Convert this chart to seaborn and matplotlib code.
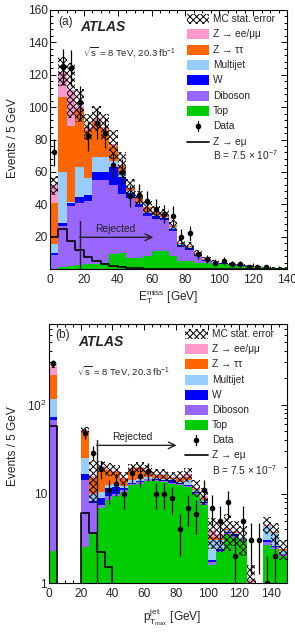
import numpy as np
import pandas as pd
import matplotlib
matplotlib.use('Agg')
import matplotlib.pyplot as plt
import seaborn as sns
from matplotlib.patches import Rectangle
from matplotlib.ticker import MultipleLocator, LogLocator, NullFormatter

sns.set_style('ticks')
plt.rcParams['font.family'] = ['Liberation Sans', 'DejaVu Sans']
plt.rcParams['mathtext.fontset'] = 'custom'
plt.rcParams['mathtext.rm'] = 'Liberation Sans'
plt.rcParams['mathtext.it'] = 'Liberation Sans:italic'
plt.rcParams['mathtext.bf'] = 'Liberation Sans:bold'
plt.rcParams['hatch.linewidth'] = 0.7

# stacking order as in the legend: first entry ends on top
processes = ['Z → ee/μμ', 'Z → ττ', 'Multijet', 'W', 'Diboson', 'Top']
colors = ['#ff99cc', '#ff6600', '#99ccff', '#0000ff', '#9966ff', '#00cc00']

# ---- (a) missing transverse momentum, 5 GeV bins 0-140
met_edges = list(range(0, 145, 5))
met_top = [0.3, 1.0, 1.8, 2.3, 2.8, 3.2, 3.6, 9.0, 10.0, 7.0, 7.0, 8.0, 11.0, 11.0,
           8.0, 5.0, 5.0, 4.0, 3.5, 3.0, 3.0, 2.3, 1.9, 1.5, 1.2, 1.0, 0.8, 0.6]
met_diboson = [8.3, 25.7, 37.0, 38.3, 39.2, 51.8, 51.4, 42.7, 36.6, 37.0, 31.0, 25.0, 20.0, 19.0,
               15.5, 8.7, 7.0, 4.1, 1.3, 0.6, 0.3, 0.2, 0.2, 0.1, 0.1, 0.1, 0.1, 0.1]
met_w = [1.1, 1.7, 2.2, 4.0, 4.0, 5.0, 5.0, 11.3, 10.4, 3.0, 2.0, 1.5, 1.5, 1.5,
         1.5, 1.2, 1.0, 0.8, 0.5, 0.3, 0.2, 0.1, 0.1, 0.1, 0.1, 0.0, 0.0, 0.0]
met_multijet = [6.0, 31.6, 0.5, 18.4, 10.0, 9.0, 9.0, 4.0, 2.0, 1.0, 1.0, 1.0, 1.0, 0.8,
                0.8, 0.5, 0.5, 0.5, 0.3, 0.3, 0.2, 0.1, 0.1, 0.1, 0.0, 0.0, 0.0, 0.0]
met_ztautau = [25.0, 46.5, 47.0, 36.0, 30.0, 22.0, 17.0, 9.0, 5.0, 2.0, 3.0, 2.5, 2.0, 1.5,
               1.0, 0.5, 0.5, 0.5, 0.3, 0.2, 0.1, 0.1, 0.0, 0.0, 0.0, 0.0, 0.0, 0.0]
met_zll = [11.0, 15.5, 22.0, 2.0, 1.5, 2.0, 1.5, 1.0, 0.5, 0.3, 0.3, 0.2, 0.2, 0.2,
           0.2, 0.1, 0.1, 0.1, 0.1, 0.1, 0.0, 0.0, 0.0, 0.0, 0.0, 0.0, 0.0, 0.0]
met_mc_err = [6, 9, 17, 10, 8, 8, 8, 9, 8, 5, 4, 4, 3, 3,
              3, 2.5, 2.5, 2, 1.2, 1, 0.8, 0.6, 0.5, 0.4, 0.4, 0.3, 0.3, 0.3]
met_data = [72, 125, 124, 103, 82, 90, 84, 64, 60, 45, 46, 42, 37, 34,
            33, 20, 22, 9, 6, 4, 5, 3, 3, 1, 1, 1, 0, 0]
met_signal = [20, 24.7, 17.5, 11.7, 7.5, 5.0, 3.2, 2.0, 1.2, 0.7, 0.4, 0.2, 0.1, 0.05,
              0, 0, 0, 0, 0, 0, 0, 0, 0, 0, 0, 0, 0, 0]

# ---- (b) leading jet pT, 5 GeV bins 0-150
jet_edges = list(range(0, 155, 5))
jet_top = [2.3, 0, 0, 0, 2.5, 3.5, 7.0, 8.5, 9.5, 10.5, 12.5, 13.0, 14.0, 14.0, 13.5,
           13.0, 12.5, 12.0, 10.0, 7.5, 1.6, 2.2, 3.5, 3.3, 3.0, 0.5, 0.2, 2.7, 2.4, 2.0]
jet_diboson = [65.7, 0, 0, 0, 11.9, 4.4, 0.5, 1.0, 0.5, 0.5, 0.5, 0.5, 0.5, 0.3, 0.3,
               0.2, 0.3, 0.3, 0.2, 0.3, 0.1, 0.1, 0.1, 0.1, 0.1, 0.1, 0.0, 0.2, 0.1, 0.1]
jet_w = [5.0, 0, 0, 0, 2.4, 0.5, 1.5, 2.0, 2.0, 0.5, 0.3, 0.3, 0.3, 0.3, 0.3,
         1.2, 0.3, 0.3, 0.2, 0.2, 0.1, 0.1, 0.1, 0.1, 0.0, 0.0, 0.0, 0.1, 0.1, 0.0]
jet_multijet = [41.0, 0, 0, 0, 8.1, 1.5, 1.5, 1.0, 1.0, 0.8, 1.0, 1.0, 0.7, 0.5, 0.5,
                0.3, 0.6, 1.5, 0.5, 0.5, 1.2, 0.6, 0.2, 0.1, 0.1, 0.3, 0.0, 1.3, 1.0, 0.2]
jet_ztautau = [103.0, 0, 0, 0, 26.0, 5.0, 9.0, 6.0, 4.5, 2.5, 4.5, 4.5, 2.5, 1.2, 1.5,
               0.5, 1.2, 1.5, 0.5, 0.5, 0.3, 0.2, 0.1, 0.1, 0.0, 0.1, 0.0, 0.1, 0.1, 0.1]
jet_zll = [53.0, 0, 0, 0, 1.0, 1.0, 1.0, 0.5, 0.5, 0.2, 0.5, 0.7, 0.3, 0.2, 0.3,
           0.2, 0.5, 1.0, 0.2, 0.5, 0.6, 0.3, 0.1, 0.1, 0.0, 0.1, 0.0, 0.1, 0.0, 0.0]
jet_mc_err = [12, 0, 0, 0, 4, 8, 3, 3, 3, 2.5, 2.5, 2.5, 2.5, 2.5, 2.5,
              2, 2.5, 3, 2.5, 2, 1.5, 1.3, 1.8, 1.2, 1.2, 0.5, 0, 1, 1, 0.6]
jet_data = [295, 0, 0, 0, 48, 29, 19, 11, 13, 10, 17, 16, 18, 10, 10,
            9, 4, 7, 6, 11, 7, 5, 8, 2, 5, 3, 3, 1, 2, 0]
jet_signal = [58, 0, 0, 0, 6.1, 3.6, 2.2, 1.5, 0.6, 0.3, 0.1, 0, 0, 0, 0,
              0, 0, 0, 0, 0, 0, 0, 0, 0, 0, 0, 0, 0, 0, 0]

FS = 8.6


def draw_panel(ax, edges, comps, mc_err, data, signal):
    edges_arr = np.asarray(edges, float)
    centers = (edges_arr[:-1] + edges_arr[1:]) / 2
    frame = pd.DataFrame({
        'x': np.tile(centers, len(processes)),
        'w': np.concatenate(comps),
        'process': np.repeat(processes, len(centers)),
    })
    sns.histplot(data=frame, x='x', weights='w', hue='process', hue_order=processes,
                 palette=colors, bins=edges, multiple='stack', element='step',
                 linewidth=0, alpha=1, legend=False, ax=ax)
    total = np.sum(comps, axis=0)
    mc_err = np.asarray(mc_err, float)
    ax.bar(centers, 2 * mc_err, bottom=total - mc_err, width=np.diff(edges_arr),
           facecolor='none', edgecolor='black', hatch='xxxxx', linewidth=0)
    sig = pd.DataFrame({'x': centers, 'w': signal})
    sns.histplot(data=sig, x='x', weights='w', bins=edges, element='step', fill=False,
                 color='black', linewidth=1.2, ax=ax)
    data = np.asarray(data, float)
    keep = data > 0
    ax.errorbar(centers[keep], data[keep], yerr=np.sqrt(data[keep]), fmt='o', ms=3,
                color='black', elinewidth=0.9, capsize=0, zorder=5)


def draw_legend(ax, x_box, x_text, y0, dy, w, h, b_off):
    tr = ax.transAxes
    labels = ['MC stat. error'] + processes + ['Data', 'Z → eμ']
    for i, lab in enumerate(labels):
        y = y0 - i * dy
        if i == 0:
            ax.add_patch(Rectangle((x_box, y - h / 2), w, h, transform=tr, facecolor='white',
                                   edgecolor='black', hatch='xxxxx', linewidth=0, zorder=6))
        elif i <= len(processes):
            ax.add_patch(Rectangle((x_box, y - h / 2), w, h, transform=tr,
                                   facecolor=colors[i - 1], linewidth=0, zorder=6))
        elif lab == 'Data':
            ax.plot([x_box + w / 2], [y], 'o', ms=3, color='black', transform=tr, zorder=6)
            ax.plot([x_box + w / 2] * 2, [y - h / 2, y + h / 2], color='black', lw=0.9,
                    transform=tr, zorder=6)
        else:
            ax.plot([x_box, x_box + w], [y, y], color='black', lw=1.2, transform=tr, zorder=6)
        ax.text(x_text, y, lab, transform=tr, fontsize=7.3, va='center', ha='left')
    ax.text(x_text, y0 - 8 * dy - b_off, r'B = 7.5 $\times$ 10$^{\mathregular{-7}}$',
            transform=tr, fontsize=7.3, va='center', ha='left')


def style_axes(ax):
    ax.tick_params(which='both', direction='in', top=True, right=True, labelsize=FS,
                   width=0.7, color='black')
    ax.tick_params(which='major', length=4.5)
    ax.tick_params(which='minor', length=2.3)
    ax.tick_params(axis='y', pad=1.5)
    ax.tick_params(axis='x', pad=3.5)
    for sp in ax.spines.values():
        sp.set_linewidth(0.8)
        sp.set_color('black')


fig = plt.figure(figsize=(2.95, 6.34), dpi=100)
ax_a = fig.add_axes([50 / 295, 1 - 269 / 634, 237 / 295, 259 / 634])
ax_b = fig.add_axes([49 / 295, 1 - 583 / 634, 238 / 295, 259 / 634])

# ---- panel (a)
draw_panel(ax_a, met_edges,
           [met_zll, met_ztautau, met_multijet, met_w, met_diboson, met_top],
           met_mc_err, met_data, met_signal)
ax_a.set_xlim(0, 140)
ax_a.set_ylim(0, 160)
ax_a.set_yticks(np.arange(0, 161, 20))
ax_a.set_yticklabels([''] + [str(v) for v in range(20, 161, 20)])
ax_a.xaxis.set_major_locator(MultipleLocator(20))
ax_a.xaxis.set_minor_locator(MultipleLocator(5))
ax_a.yaxis.set_minor_locator(MultipleLocator(4))
style_axes(ax_a)
ax_a.set_xlabel(r'$\mathregular{E_T^{miss}}$ [GeV]', fontsize=FS)
ax_a.xaxis.set_label_coords(0.498, -0.108)
ax_a.xaxis.label.set_va('center')
ax_a.set_ylabel('Events / 5 GeV', fontsize=FS)
ax_a.yaxis.set_label_coords(-0.156, 0.506)
ax_a.yaxis.label.set_va('center')

ax_a.plot([17.5, 17.5], [0, 29.6], color='#222222', lw=1.0)
ax_a.annotate('', xy=(61, 19.6), xytext=(17.5, 19.6),
              arrowprops=dict(arrowstyle='->', color='#222222', lw=1.0, mutation_scale=12,
                              shrinkA=0, shrinkB=0))
ax_a.text(38.4, 24.7, 'Rejected', ha='center', va='center', fontsize=7.4, color='#222222')

ax_a.text(0.034, 0.954, '(a)', transform=ax_a.transAxes, fontsize=8.6, va='center')
ax_a.text(0.127, 0.934, 'ATLAS', transform=ax_a.transAxes, fontsize=10,
          fontweight='bold', fontstyle='italic', va='center')
ax_a.text(0.139, 0.838, r'$\mathregular{\sqrt{s}}$ = 8 TeV, 20.3 fb$^{\mathregular{-1}}$',
          transform=ax_a.transAxes, fontsize=6.8, va='center')
draw_legend(ax_a, 0.578, 0.688, 0.965, 0.0592, 0.093, 0.0386, 0.052)

# ---- panel (b)
draw_panel(ax_b, jet_edges,
           [jet_zll, jet_ztautau, jet_multijet, jet_w, jet_diboson, jet_top],
           jet_mc_err, jet_data, jet_signal)
ax_b.set_yscale('log')
ax_b.set_xlim(0, 150)
ax_b.set_ylim(1, 800)
ax_b.set_yticks([1, 10, 100])
ax_b.set_yticklabels(['1', '10', r'10$^{\mathregular{2}}$'])
ax_b.yaxis.set_minor_locator(LogLocator(base=10, subs=np.arange(2, 10)))
ax_b.yaxis.set_minor_formatter(NullFormatter())
ax_b.set_xticks(np.arange(0, 141, 20))
ax_b.xaxis.set_minor_locator(MultipleLocator(5))
style_axes(ax_b)
ax_b.set_xlabel(r'$\mathregular{p_{T_{max}}^{jet}}$ [GeV]', fontsize=FS)
ax_b.xaxis.set_label_coords(0.517, -0.131)
ax_b.xaxis.label.set_va('center')
ax_b.set_ylabel('Events / 5 GeV', fontsize=FS)
ax_b.yaxis.set_label_coords(-0.151, 0.53)
ax_b.yaxis.label.set_va('center')

ax_b.plot([30, 30], [1, 40.4], color='#222222', lw=1.0)
ax_b.annotate('', xy=(80.4, 34.9), xytext=(30, 34.9),
              arrowprops=dict(arrowstyle='->', color='#222222', lw=1.0, mutation_scale=12,
                              shrinkA=0, shrinkB=0))
ax_b.text(52.5, 43.4, 'Rejected', ha='center', va='center', fontsize=7.4, color='#222222')

ax_b.text(0.025, 0.958, '(b)', transform=ax_b.transAxes, fontsize=8.6, va='center')
ax_b.text(0.122, 0.93, 'ATLAS', transform=ax_b.transAxes, fontsize=10,
          fontweight='bold', fontstyle='italic', va='center')
ax_b.text(0.118, 0.819, r'$\mathregular{\sqrt{s}}$ = 8 TeV, 20.3 fb$^{\mathregular{-1}}$',
          transform=ax_b.transAxes, fontsize=6.8, va='center')
draw_legend(ax_b, 0.571, 0.685, 0.961, 0.0585, 0.097, 0.0386, 0.057)

fig.savefig('out.png', dpi=100)
